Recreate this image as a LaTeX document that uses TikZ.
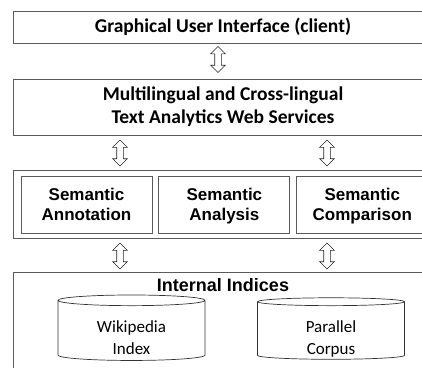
\documentclass[tikz,border=0pt]{standalone}
\usepackage{fontspec}
\setmainfont{Carlito}
\newfontfamily\arialfont{Liberation Sans}
\usetikzlibrary{positioning,shapes.geometric,shapes.arrows}
\definecolor{framegray}{HTML}{5A5A5A}
\tikzset{
	layer/.style={
		rectangle,
		draw=framegray,
		line width=0.9pt,
		minimum width=420pt,
		align=center,
		inner sep=0pt
	},
	module/.style={
		rectangle,
		draw=framegray,
		line width=0.9pt,
		minimum width=131pt,
		minimum height=57pt,
		text depth=1pt,
		align=center,
		font=\arialfont\bfseries\fontsize{17}{20}\selectfont
	},
	store/.style={
		cylinder,
		shape border rotate=90,
		draw=black!80,
		line width=0.7pt,
		minimum width=147pt,
		minimum height=58pt,
		aspect=0.15,
		inner sep=1pt,
		text height=47pt,
		text depth=1pt,
		align=center,
		font=\fontsize{17}{22}\selectfont
	},
	link/.style={
		double arrow,
		shape border rotate=90,
		draw=black!85,
		fill=white,
		line width=0.6pt,
		inner sep=3pt,
		minimum height=26pt,
		double arrow head extend=4pt
	}
}
\begin{document}
\begin{tikzpicture}[x=1pt, y=-1pt]
	\useasboundingbox (0,0) rectangle (422,367);
	\clip (0,0) rectangle (422,367);
	\node [layer, minimum height=32pt, font=\bfseries\fontsize{19.5}{23}\selectfont] (gui) at (223,27) {Graphical User Interface (client)};
	\node [layer, minimum height=56pt, text depth=4pt, font=\bfseries\fontsize{19.5}{23}\selectfont] (services) at (223,107) {Multilingual and Cross-lingual\\Text Analytics Web Services};
	\node [layer, minimum height=68pt] (semframe) at (223,204) {};
	\node [module] (annot) at (86.5,204.5) {Semantic\\Annotation};
	\node [module, right=6pt of annot] (analysis) {Semantic\\Analysis};
	\node [module, right=6pt of analysis] (compare) {Semantic\\Comparison};
	\node [layer, minimum height=120pt] (indices) at (223,332) {};
	\node [font=\arialfont\bfseries\fontsize{18}{21}\selectfont, below=3pt of indices.north] (indtitle) {Internal Indices};
	\node [store] (wiki) at (131.5,331) {Wikipedia\\Index};
	\node [store] (corpus) at (331,331) {Parallel\\Corpus};
	\node [link] (l1) at (218,59.5) {};
	\node [link] (l2) at (120,153) {};
	\node [link] (l3) at (327,153) {};
	\node [link] (l4) at (120,256) {};
	\node [link] (l5) at (327,256) {};
\end{tikzpicture}
\end{document}
